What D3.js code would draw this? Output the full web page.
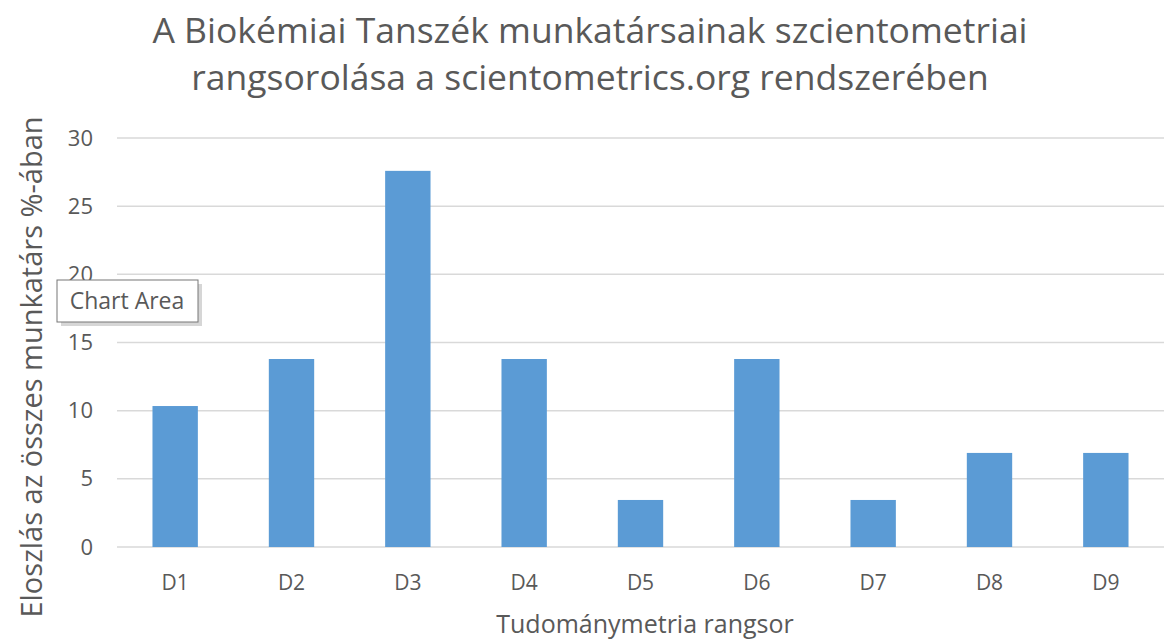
<!DOCTYPE html>
<html lang="hu">
<head>
  <meta charset="utf-8">
  <title>Tudománymetria rangsor</title>
  <script src="https://d3js.org/d3.v7.min.js"></script>
  <style>
    body { margin: 0; background: #fff; }
    text { font-family: "Open Sans", "Noto Sans", sans-serif; fill: #595959; }
  </style>
</head>
<body>
  <script>
    var categories = ['D1', 'D2', 'D3', 'D4', 'D5', 'D6', 'D7', 'D8', 'D9'];
    var values = [10.34, 13.79, 27.59, 13.79, 3.45, 13.79, 3.45, 6.90, 6.90]; // % of staff
    var yTicks = [0, 5, 10, 15, 20, 25, 30];
    var titleLines = ['A Biokémiai Tanszék munkatársainak szcientometriai',
                      'rangsorolása a scientometrics.org rendszerében'];

    var w = 1164, h = 639;
    var margin = {top: 138, right: 0, bottom: 92, left: 117};
    var innerW = w - margin.left - margin.right,
        innerH = h - margin.top - margin.bottom;

    var svg = d3.select('body').append('svg')
      .attr('width', w)
      .attr('height', h);

    var x = d3.scaleBand().domain(categories).range([0, innerW])
      .paddingInner(0.61).paddingOuter(0.305);
    var y = d3.scaleLinear().domain([0, 30]).range([innerH, 0]);

    var g = svg.append('g')
      .attr('transform', 'translate(' + [margin.left, margin.top] + ')');

    // gridlines
    g.selectAll('.grid')
      .data(yTicks)
      .enter().append('line')
      .attr('class', 'grid')
      .attr('x1', 0).attr('x2', innerW)
      .attr('y1', function(d){return y(d)}).attr('y2', function(d){return y(d)})
      .attr('stroke', '#d9d9d9').attr('stroke-width', 1.5);

    // y axis labels
    var yAxis = g.append('g').call(d3.axisLeft(y).tickValues(yTicks).tickSize(0).tickPadding(24));
    yAxis.select('.domain').remove();
    yAxis.selectAll('text').style('font-size', '22px').attr('fill', '#595959')
      .style('font-family', '"Open Sans", sans-serif');

    // x axis labels
    var xAxis = g.append('g').attr('transform', 'translate(0,' + innerH + ')')
      .call(d3.axisBottom(x).tickSize(0).tickPadding(28));
    xAxis.select('.domain').remove();
    xAxis.selectAll('text').style('font-size', '21px').attr('fill', '#595959')
      .style('font-family', '"Open Sans", sans-serif');

    // bars
    g.selectAll('.bar')
      .data(values)
      .enter().append('rect')
      .attr('class', 'bar')
      .attr('x', function(d, i){return x(categories[i])})
      .attr('y', function(d){return y(d)})
      .attr('width', x.bandwidth())
      .attr('height', function(d){return innerH - y(d)})
      .attr('fill', '#5b9bd5');

    // title
    svg.selectAll('.title')
      .data(titleLines)
      .enter().append('text')
      .attr('class', 'title')
      .attr('x', 590)
      .attr('y', function(d, i){return 43 + i * 47})
      .attr('text-anchor', 'middle')
      .style('font-size', '35.5px')
      .text(function(d){return d});

    // axis titles
    svg.append('text')
      .attr('transform', 'translate(42,367) rotate(-90)')
      .attr('text-anchor', 'middle')
      .style('font-size', '29px')
      .text('Eloszlás az összes munkatárs %-ában');

    svg.append('text')
      .attr('x', 645).attr('y', 633)
      .attr('text-anchor', 'middle')
      .style('font-size', '25px')
      .text('Tudománymetria rangsor');

    // "Chart Area" tooltip
    var tip = svg.append('g').attr('transform', 'translate(57,280)');
    tip.append('rect').attr('x', 4).attr('y', 4).attr('width', 141).attr('height', 42)
      .attr('fill', '#bbb').attr('opacity', 0.6);
    tip.append('rect').attr('width', 141).attr('height', 42)
      .attr('fill', '#fff').attr('stroke', '#767676').attr('stroke-width', 1);
    tip.append('text').attr('x', 70).attr('y', 29).attr('text-anchor', 'middle')
      .style('font-size', '23px').text('Chart Area');
  </script>
</body>
</html>
